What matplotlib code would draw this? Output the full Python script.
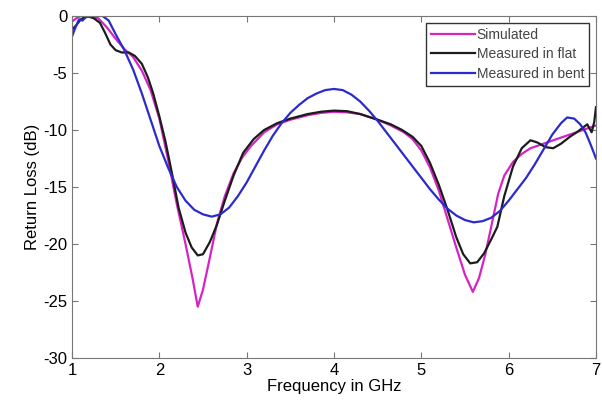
import numpy as np
import matplotlib
matplotlib.use('Agg')
import matplotlib.pyplot as plt

plt.rcParams['font.family'] = ['Liberation Sans', 'DejaVu Sans']
plt.rcParams['axes.unicode_minus'] = False

# Simulated
f_sim = [1.0, 1.05, 1.1, 1.2, 1.3, 1.4, 1.5, 1.6, 1.7, 1.8, 1.9, 2.0, 2.1, 2.2, 2.3, 2.38,
         2.44, 2.5, 2.57, 2.66, 2.75, 2.85, 2.95, 3.05, 3.2, 3.35, 3.5, 3.7, 3.85, 4.0,
         4.15, 4.3, 4.5, 4.65, 4.8, 4.9, 5.0, 5.1, 5.2, 5.3, 5.4, 5.5, 5.59, 5.66, 5.73,
         5.8, 5.88, 5.95, 6.05, 6.15, 6.25, 6.4, 6.55, 6.7, 6.85, 7.0]
s_sim = [-0.5, -0.2, 0.0, 0.0, -0.2, -1.0, -2.0, -2.9, -3.6, -4.8, -6.5, -9.0, -12.6, -16.5, -20.0, -23.0,
         -25.5, -24.0, -21.5, -18.2, -15.8, -13.8, -12.4, -11.4, -10.2, -9.5, -9.1, -8.7, -8.5, -8.4,
         -8.45, -8.6, -9.1, -9.6, -10.2, -10.8, -11.8, -13.3, -15.3, -17.8, -20.3, -22.7, -24.2, -23.0, -21.0,
         -18.5, -15.6, -14.0, -12.8, -12.1, -11.6, -11.2, -10.8, -10.4, -10.0, -9.6]

# Measured in flat
f_flat = [1.0, 1.05, 1.1, 1.17, 1.25, 1.32, 1.38, 1.44, 1.5, 1.57, 1.65, 1.72, 1.8, 1.87,
          1.93, 2.0, 2.07, 2.15, 2.22, 2.3, 2.37, 2.44, 2.5, 2.58, 2.66, 2.75, 2.85, 2.96,
          3.08, 3.2, 3.35, 3.5, 3.7, 3.85, 4.0, 4.15, 4.3, 4.5, 4.65, 4.78, 4.9, 5.0, 5.1,
          5.2, 5.3, 5.4, 5.48, 5.56, 5.64, 5.72, 5.8, 5.87, 5.95, 6.05, 6.15, 6.25, 6.33,
          6.42, 6.51, 6.6, 6.7, 6.78, 6.85, 6.9, 6.95, 6.98, 7.0]
s_flat = [-1.2, -0.8, -0.3, 0.0, -0.2, -0.6, -1.5, -2.5, -3.0, -3.2, -3.2, -3.5, -4.2, -5.4,
          -6.8, -8.8, -11.0, -14.0, -16.8, -19.0, -20.3, -21.0, -20.9, -19.8, -18.3, -16.2, -14.0, -12.0,
          -10.8, -10.0, -9.4, -9.0, -8.6, -8.4, -8.3, -8.35, -8.6, -9.1, -9.5, -10.0, -10.6, -11.4, -12.9,
          -14.8, -17.0, -19.4, -20.9, -21.7, -21.6, -20.8, -19.6, -18.5, -15.8, -13.2, -11.6, -10.9, -11.1,
          -11.5, -11.6, -11.2, -10.6, -10.2, -9.8, -9.5, -10.2, -9.3, -8.0]

# Measured in bent
f_bent = [1.0, 1.04, 1.08, 1.12, 1.16, 1.25, 1.35, 1.42, 1.5, 1.6, 1.7, 1.8, 1.9, 2.0,
          2.1, 2.2, 2.3, 2.4, 2.5, 2.6, 2.7, 2.8, 2.9, 3.0, 3.1, 3.2, 3.3, 3.4, 3.5, 3.6,
          3.7, 3.8, 3.9, 4.0, 4.1, 4.2, 4.3, 4.4, 4.5, 4.6, 4.7, 4.8, 4.9, 5.0, 5.1, 5.2,
          5.3, 5.4, 5.5, 5.6, 5.7, 5.8, 5.9, 6.0, 6.1, 6.2, 6.3, 6.4, 6.5, 6.6, 6.67,
          6.75, 6.82, 6.88, 6.94, 7.0]
s_bent = [-1.8, -1.0, -0.3, -0.4, -0.1, 0.0, 0.0, -0.4, -1.6, -3.0, -4.7, -6.8, -9.1, -11.4,
          -13.3, -15.0, -16.2, -17.0, -17.4, -17.6, -17.4, -16.8, -15.8, -14.6, -13.2, -11.8, -10.5, -9.4, -8.5, -7.8,
          -7.2, -6.8, -6.5, -6.4, -6.5, -6.9, -7.5, -8.3, -9.2, -10.2, -11.2, -12.2, -13.2, -14.2, -15.2, -16.1,
          -16.9, -17.5, -17.9, -18.1, -18.0, -17.7, -17.1, -16.2, -15.2, -14.2, -13.0, -11.7, -10.4, -9.4, -8.9,
          -9.0, -9.5, -10.2, -11.3, -12.5]

fig = plt.figure(figsize=(6.02, 4.07), dpi=100)
ax = fig.add_axes([0.1196, 0.1204, 0.8704, 0.8403])

ax.plot(f_sim, s_sim, color='#d624c4', lw=1.6, label='Simulated')
ax.plot(f_flat, s_flat, color='#1c1c1c', lw=1.6, label='Measured in flat')
ax.plot(f_bent, s_bent, color='#2b2bcc', lw=1.6, label='Measured in bent')

ax.set_xlim(1, 7)
ax.set_ylim(-30, 0)
ax.set_xticks(np.arange(1, 8, 1))
ax.set_yticks(np.arange(-30, 1, 5))
ax.tick_params(direction='in', top=True, right=True, labelsize=12, length=4, color='#777777')
for sp in ax.spines.values():
    sp.set_color('#777777')

ax.set_xlabel('Frequency in GHz', fontsize=12, labelpad=1)
ax.set_ylabel('Return Loss (dB)', fontsize=12, labelpad=2)

leg = ax.legend(loc='upper right', fontsize=10, handlelength=3.2, handletextpad=0.1,
                borderpad=0.35, labelspacing=0.4, fancybox=False, framealpha=1,
                borderaxespad=0.5)
leg.get_frame().set_edgecolor('#333333')
for t in leg.get_texts():
    t.set_color('#444444')

fig.savefig('out.png', dpi=100)
